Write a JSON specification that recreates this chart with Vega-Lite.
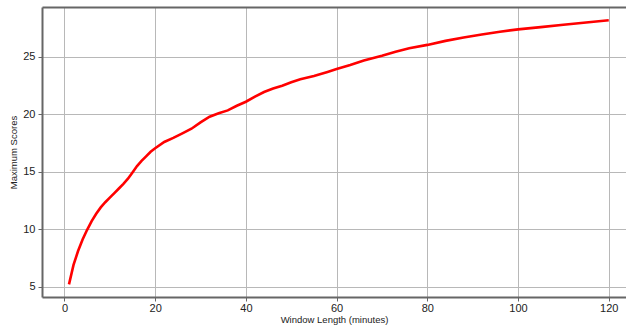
{
  "$schema": "https://vega.github.io/schema/vega-lite/v6.json",
  "autosize": {"type": "none"},
  "padding": {"left": 42, "top": 7, "right": 0, "bottom": 30},
  "width": 584,
  "height": 290,
  "background": "white",
  "config": {
    "view": {"stroke": null},
    "font": "Liberation Sans",
    "axis": {
      "gridColor": "#b8b8b8",
      "gridWidth": 1,
      "domainColor": "#666666",
      "domainWidth": 2,
      "tickColor": "#666666",
      "tickSize": 4,
      "labelFontSize": 11,
      "labelColor": "#222222",
      "titleFontSize": 10,
      "titleFontWeight": "normal",
      "titleColor": "#222222"
    }
  },
  "data": {"values": [
    {"w": 1, "s": 5.2}, {"w": 2, "s": 6.9}, {"w": 3, "s": 8.1}, {"w": 4, "s": 9.1},
    {"w": 5, "s": 9.95}, {"w": 6, "s": 10.7}, {"w": 7, "s": 11.35}, {"w": 8, "s": 11.9},
    {"w": 9, "s": 12.35}, {"w": 10, "s": 12.75}, {"w": 11, "s": 13.15}, {"w": 12, "s": 13.55},
    {"w": 13, "s": 13.95}, {"w": 14, "s": 14.4}, {"w": 15, "s": 14.95}, {"w": 16, "s": 15.5},
    {"w": 17, "s": 15.95}, {"w": 18, "s": 16.35}, {"w": 19, "s": 16.75}, {"w": 20, "s": 17.05},
    {"w": 22, "s": 17.6}, {"w": 24, "s": 17.95}, {"w": 26, "s": 18.35}, {"w": 28, "s": 18.75},
    {"w": 30, "s": 19.3}, {"w": 32, "s": 19.8}, {"w": 34, "s": 20.1}, {"w": 36, "s": 20.35},
    {"w": 38, "s": 20.75}, {"w": 40, "s": 21.1}, {"w": 42, "s": 21.55}, {"w": 44, "s": 21.95},
    {"w": 46, "s": 22.25}, {"w": 48, "s": 22.5}, {"w": 50, "s": 22.8}, {"w": 52, "s": 23.05},
    {"w": 55, "s": 23.35}, {"w": 58, "s": 23.7}, {"w": 60, "s": 23.95}, {"w": 63, "s": 24.3},
    {"w": 66, "s": 24.7}, {"w": 70, "s": 25.1}, {"w": 73, "s": 25.45}, {"w": 76, "s": 25.75},
    {"w": 80, "s": 26.05}, {"w": 84, "s": 26.4}, {"w": 88, "s": 26.7}, {"w": 92, "s": 26.95},
    {"w": 96, "s": 27.2}, {"w": 100, "s": 27.4}, {"w": 105, "s": 27.6}, {"w": 110, "s": 27.8},
    {"w": 115, "s": 28.0}, {"w": 120, "s": 28.2}
  ]},
  "layer": [
    {
      "mark": {"type": "line", "color": "#ff0000", "strokeWidth": 2.6, "clip": true},
      "encoding": {
        "x": {"field": "w", "type": "quantitative",
              "scale": {"domain": [-4.95, 123.8], "nice": false, "zero": false},
              "axis": {"title": "Window Length (minutes)", "values": [0, 20, 40, 60, 80, 100, 120],
                       "labelPadding": 1, "titlePadding": 1, "titleFontSize": 9.5}},
        "y": {"field": "s", "type": "quantitative",
              "scale": {"domain": [4.1, 29.35], "nice": false, "zero": false},
              "axis": {"title": "Maximum Scores", "values": [5, 10, 15, 20, 25],
                       "labelPadding": 3, "titlePadding": 4, "titleFontSize": 9.5}}
      }
    },
    {
      "mark": {"type": "line", "strokeOpacity": 0},
      "encoding": {
        "x": {"field": "w", "type": "quantitative",
              "axis": {"orient": "top", "title": null, "labels": false, "ticks": false, "grid": false, "domain": true}},
        "y": {"field": "s", "type": "quantitative",
              "axis": {"orient": "right", "title": null, "labels": false, "ticks": false, "grid": false, "domain": false}}
      }
    }
  ],
  "resolve": {"axis": {"x": "independent", "y": "independent"}}
}
